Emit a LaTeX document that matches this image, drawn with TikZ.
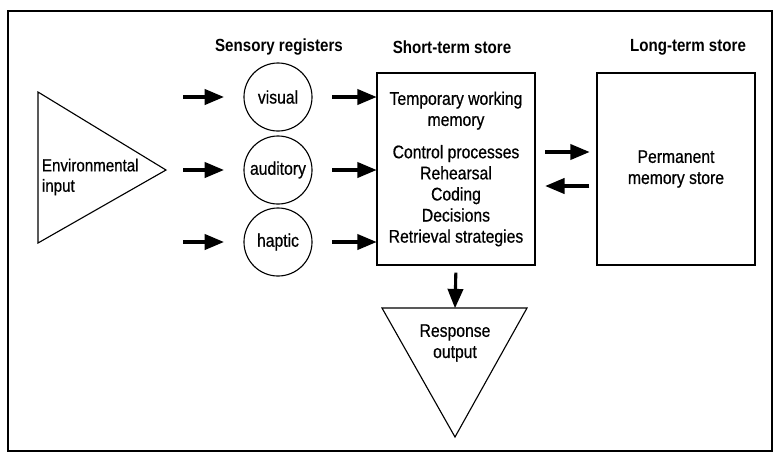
\documentclass[tikz,border=0pt]{standalone}
\usepackage{fontspec}
\setmainfont{Liberation Sans}[FakeStretch=0.86]
\newfontfamily\bodyfont{Liberation Sans}[FakeStretch=0.86,FakeBold=0.6]
\usetikzlibrary{arrows,positioning}

\begin{document}
\begin{tikzpicture}[x=0.025cm,y=-0.025cm,>=triangle 45,
        font=\bodyfont\fontsize{13}{15}\selectfont,
        reg/.style={circle,draw,thick,minimum size=1.7cm,inner sep=0pt},
        store/.style={rectangle,draw,thick,minimum width=3.95cm,minimum height=4.8cm,align=center},
        flow/.style={->,line width=2.2pt},
        head/.style={font=\normalfont\fontsize{12.5}{15}\selectfont\bfseries}]

  \useasboundingbox (0,0) rectangle (776,456);
  \draw[thick] (8,11) rectangle (772,451);

  % headings
  \node[head] (hreg) at (279,47) {Sensory registers};
  \node[head] (hsts) at (452,47) {Short-term store};
  \node[head] (hlts) at (688,47) {Long-term store};

  % input and output
  \draw[thick] (38,92) -- (166,170) -- (38,243) -- cycle;
  \node[anchor=west,align=left,font=\bodyfont\fontsize{12.5}{14.5}\selectfont] (env) at (37,177) {Environmental\\input};
  \draw[thick] (382,308) -- (527,308) -- (455,437) -- cycle;
  \coordinate (rtop) at (455,308);
  \node[align=center] (resp) at (455,343) {Response\\output};

  \node[reg] (vis) at (278,97) {visual};
  \node[reg] (aud) at (278,170) {auditory};
  \node[reg] (hap) at (278,242) {haptic};

  \node[store] (sts) at (456,169) {Temporary working\\memory\\[8pt]
        Control processes\\Rehearsal\\Coding\\Decisions\\Retrieval strategies};
  \node[store] (lts) at (676,169) {Permanent\\memory store};

  \coordinate (in1) at (183,97);
  \coordinate (in2) at (183,170);
  \coordinate (in3) at (183,242);
  \coordinate (up) at (0,152);
  \coordinate (dn) at (0,186);

  \path (in1) edge[flow,shorten >=14pt] (vis)
        (in2) edge[flow,shorten >=14pt] (aud)
        (in3) edge[flow,shorten >=14pt] (hap)
        (vis) edge[flow,shorten <=14pt] (sts.west |- vis)
        (aud) edge[flow,shorten <=14pt] (sts.west |- aud)
        (hap) edge[flow,shorten <=14pt] (sts.west |- hap)
        (sts.east |- up) edge[flow,shorten <=7pt,shorten >=5pt] (lts.west |- up)
        (lts.west |- dn) edge[flow,shorten <=5pt,shorten >=7pt] (sts.east |- dn)
        (sts.south) edge[flow,shorten <=5pt] (rtop);

\end{tikzpicture}
\end{document}
